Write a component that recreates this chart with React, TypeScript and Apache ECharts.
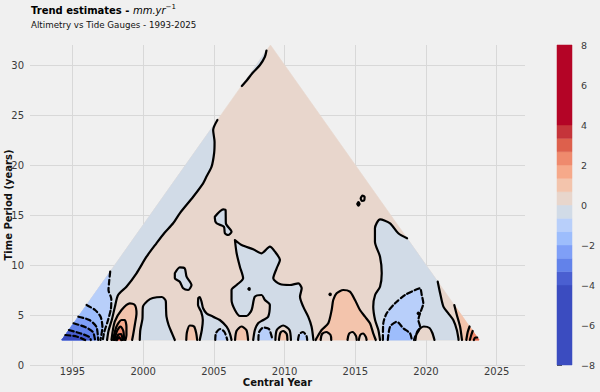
import React, { useEffect, useRef } from 'react';
import * as echarts from 'echarts';

type Pt = [number, number];

// ---- axes / colour scale ----
const xTicks = [1995, 2000, 2005, 2010, 2015, 2020, 2025];
const yTicks = [0, 5, 10, 15, 20, 25, 30];
const levels = [-8, -4, -10 / 3, -8 / 3, -2, -4 / 3, -2 / 3, 0, 2 / 3, 4 / 3, 2, 8 / 3, 10 / 3, 4, 8];
const levelColors = ['#3b4cc0', '#4a5fd1', '#6282ea', '#7f9ff7', '#9dbdfc', '#b8cffa', '#d1dbe7', '#e8d6cc', '#f3c4ac', '#f6a98a', '#ef8a6d', '#dd604c', '#c5343a', '#b40426'];

// ---- domain (central year, period) ----
const triangle: Pt[] = [[1994.25, 2.5], [2009, 32], [2023.75, 2.5]];

// ---- contours ----
const zeroMain: Pt[] = [[2005.25, 24.5], [2004.95, 23.5], [2005.05, 22.3], [2005.02, 21.2], [2004.84, 19.83], [2004.5, 18.9], [2004.24, 18.17], [2003.54, 16.83], [2002.59, 15.17], [2002.12, 14.17], [2001.5, 13.2], [2000.94, 12.17], [2000.24, 10.83], [1999.53, 9.17], [1998.82, 7.83], [1998.23, 7.0], [1998.0, 5.8], [1997.8, 4.6], [1997.55, 3.4], [1997.45, 2.5]];
const topSliver: Pt[] = [[2008.72, 31.45], [2008.61, 30.83], [2008.26, 30.0], [2007.72, 29.17], [2007.35, 28.5], [2006.98, 27.9]];

const neg067: Pt[] = [[1997.67, 9.33], [1997.6, 8.4], [1997.55, 7.5], [1997.75, 6.6], [1997.72, 5.6], [1997.5, 4.4], [1997.25, 3.3], [1997.15, 2.5]];
const neg133: Pt[] = [[1996.0, 6.0], [1996.6, 5.5], [1997.0, 4.8], [1997.12, 3.8], [1996.98, 2.5]];
const neg200: Pt[] = [[1995.42, 4.83], [1996.2, 4.5], [1996.7, 3.8], [1996.82, 2.5]];
const neg267: Pt[] = [[1995.08, 4.17], [1995.9, 3.8], [1996.45, 3.3], [1996.6, 2.5]];
const neg333: Pt[] = [[1994.75, 3.5], [1995.6, 3.15], [1996.2, 2.8], [1996.3, 2.5]];
const neg400: Pt[] = [[1994.5, 3.0], [1995.3, 2.85], [1995.9, 2.5]];

const pos067a: Pt[] = [[1997.76, 2.5], [1997.99, 4.33], [1998.47, 5.5], [1999.06, 6.17], [1999.41, 6.0], [1999.53, 5.17], [1999.41, 4.0], [1999.29, 3.0], [1999.22, 2.5]];
const pos133a: Pt[] = [[1997.87, 2.5], [1998.11, 3.83], [1998.47, 4.5], [1998.7, 4.5], [1998.82, 3.83], [1998.82, 3.0], [1998.75, 2.5]];
const pos200a: Pt[] = [[1997.97, 2.5], [1998.15, 3.4], [1998.4, 3.85], [1998.6, 3.4], [1998.65, 2.5]];
const pos267a: Pt[] = [[1998.07, 2.5], [1998.25, 3.05], [1998.45, 3.1], [1998.55, 2.5]];
const pos333a: Pt[] = [[1998.15, 2.5], [1998.3, 2.8], [1998.45, 2.5]];

const islandA: Pt[] = [[2005.07, 14.83], [2005.66, 15.57], [2005.83, 15.5], [2005.85, 14.17], [2006.25, 13.33], [2006.01, 13.0], [2005.78, 13.17], [2005.71, 13.83], [2005.19, 14.17], [2005.07, 14.67], [2005.07, 14.83]];
const islandI: Pt[] = [[2002.24, 9.17], [2002.59, 9.77], [2002.94, 9.67], [2003.07, 8.83], [2003.42, 8.0], [2003.18, 7.5], [2002.83, 7.67], [2002.59, 8.33], [2002.24, 8.67], [2002.24, 9.17]];

const regionB: Pt[] = [[2007.78, 2.5], [2007.9, 3.5], [2008.13, 4.17], [2008.49, 4.5], [2008.84, 4.83], [2008.96, 6.0], [2008.61, 6.5], [2008.38, 7.0], [2007.9, 6.83], [2007.67, 5.5], [2007.31, 4.9], [2006.84, 4.9], [2006.49, 5.5], [2006.25, 6.5], [2006.25, 7.5], [2006.61, 8.0], [2007.07, 8.67], [2006.84, 9.83], [2006.61, 11.17], [2006.49, 12.5], [2006.96, 12.0], [2007.78, 11.57], [2008.38, 11.17], [2008.96, 11.83], [2009.32, 11.33], [2009.67, 10.5], [2009.44, 9.67], [2009.2, 8.67], [2009.67, 8.1], [2010.38, 8.0], [2010.97, 8.17], [2011.21, 7.67], [2011.09, 6.83], [2011.32, 5.83], [2011.67, 4.83], [2011.91, 3.83], [2012.04, 2.5]];
const patchB1: Pt[] = [[2008.15, 2.5], [2008.2, 3.3], [2008.5, 3.75], [2008.9, 3.6], [2009.15, 2.5]];
const patchB2p: Pt[] = [[2009.35, 2.5], [2009.45, 3.5], [2009.9, 3.95], [2010.35, 3.5], [2010.45, 2.5]];
const patchB2s: Pt[] = [[2009.6, 2.5], [2009.7, 3.2], [2009.9, 3.4], [2010.15, 3.1], [2010.2, 2.5]];
const patchB3: Pt[] = [[2010.95, 2.5], [2011.05, 3.1], [2011.3, 3.3], [2011.55, 2.9], [2011.6, 2.5]];

const regionC: Pt[] = [[2004.0, 2.5], [2004.15, 3.5], [2004.22, 4.5], [2004.1, 5.33], [2003.88, 6.0], [2003.9, 6.7], [2004.0, 6.8], [2004.13, 6.33], [2004.24, 5.67], [2004.48, 5.17], [2004.95, 4.83], [2005.42, 4.5], [2005.9, 3.83], [2006.13, 3.17], [2006.25, 2.5]];
const patchC1: Pt[] = [[2005.1, 2.5], [2005.15, 3.2], [2005.45, 3.6], [2005.75, 3.3], [2005.95, 2.5]];
const regionD: Pt[] = [[1999.76, 2.5], [1999.8, 3.5], [1999.95, 4.6], [1999.98, 5.8], [2000.3, 6.4], [2000.68, 6.7], [2001.32, 6.8], [2001.6, 6.4], [2001.62, 5.6], [2001.65, 4.83], [2001.8, 4.0], [2002.0, 3.3], [2002.24, 2.5]];
const patchE: Pt[] = [[2003.05, 2.5], [2003.1, 3.3], [2003.3, 3.95], [2003.6, 3.85], [2003.75, 3.2], [2003.82, 2.5]];
const patchJ: Pt[] = [[2006.5, 2.5], [2006.6, 3.4], [2006.95, 3.85], [2007.3, 3.5], [2007.42, 2.5]];

const regionF: Pt[] = [[2012.2, 2.5], [2012.27, 2.7], [2012.62, 3.5], [2013.09, 4.17], [2013.33, 5.5], [2013.44, 6.5], [2013.68, 7.17], [2014.15, 7.5], [2014.62, 7.33], [2014.98, 6.5], [2015.33, 5.5], [2015.69, 4.83], [2016.04, 4.17], [2016.27, 3.17], [2016.45, 2.5]];
const patchF1: Pt[] = [[2012.55, 2.5], [2012.65, 3.1], [2012.95, 3.3], [2013.25, 3.0], [2013.3, 2.5]];
const patchF2: Pt[] = [[2014.45, 2.5], [2014.55, 3.1], [2014.8, 3.3], [2015.05, 2.9], [2015.1, 2.5]];
const patchF3: Pt[] = [[2015.25, 2.5], [2015.35, 3.0], [2015.55, 3.15], [2015.75, 2.8], [2015.8, 2.5]];

const gLeft: Pt[] = [[2016.75, 2.5], [2016.63, 3.5], [2016.4, 4.5], [2016.27, 5.83], [2016.4, 7.0], [2016.75, 7.83], [2016.87, 9.17], [2016.75, 10.83], [2016.39, 12.33], [2016.39, 13.67], [2016.75, 14.57], [2017.46, 14.17], [2018.04, 13.17], [2018.66, 12.67]];
const gRight: Pt[] = [[2020.83, 8.33], [2021.0, 7.17], [2021.23, 5.83], [2021.58, 5.17], [2021.93, 4.5], [2022.18, 3.5], [2022.29, 2.67], [2022.3, 2.5]];
const patchK: Pt[] = [[2016.95, 2.5], [2016.98, 4.17], [2017.22, 5.17], [2017.81, 6.17], [2018.52, 7.0], [2019.23, 7.5], [2019.58, 7.67], [2019.7, 7.0], [2019.81, 6.17], [2019.58, 5.17], [2019.46, 4.5], [2019.58, 3.83], [2019.23, 2.83], [2019.15, 2.5]];
const patchK2: Pt[] = [[2017.3, 2.5], [2017.46, 3.83], [2017.93, 4.33], [2018.4, 3.67], [2018.87, 3.17], [2019.0, 2.5]];
const patchH: Pt[] = [[2019.25, 2.5], [2019.4, 3.4], [2019.85, 3.85], [2020.25, 3.7], [2020.45, 3.2], [2020.6, 2.5]];

const edgeR1: Pt[] = [[2022.0, 6.0], [2022.18, 5.0], [2022.41, 3.83], [2022.53, 2.67], [2022.55, 2.5]];
const edgeR2: Pt[] = [[2022.85, 2.5], [2022.95, 3.3], [2023.08, 3.85]];
const edgeR3: Pt[] = [[2023.1, 2.5], [2023.2, 3.0], [2023.3, 3.4]];
const edgeR4: Pt[] = [[2023.38, 2.5], [2023.48, 2.75], [2023.62, 2.75]];

const ringTop: Pt[] = [[2015.38, 16.65], [2015.5, 16.95], [2015.66, 16.8], [2015.62, 16.45], [2015.45, 16.42], [2015.38, 16.65]];
const dotTop: Pt[] = [[2015.14, 16.1], [2015.22, 16.28], [2015.3, 16.1], [2015.22, 15.93], [2015.14, 16.1]];
const dotB: Pt[] = [[2007.44, 7.6], [2007.49, 7.68], [2007.54, 7.6], [2007.49, 7.52], [2007.44, 7.6]];
const dotF: Pt[] = [[2013.17, 7.07], [2013.22, 7.15], [2013.27, 7.07], [2013.22, 6.99], [2013.17, 7.07]];
const dotK: Pt[] = [[2019.41, 5.17], [2019.46, 5.25], [2019.51, 5.17], [2019.46, 5.09], [2019.41, 5.17]];

// ---- fill layers: polygon + a value inside its band ----
const corner = triangle[0];
const cornerR = triangle[2];
const fillLayers: [Pt[], number][] = [
  [triangle, 0.3],
  [[corner, ...zeroMain], -0.3],
  [topSliver, -0.3],
  [[corner, ...neg067], -1],
  [[corner, ...neg133], -1.6],
  [[corner, ...neg200], -2.3],
  [[corner, ...neg267], -3],
  [[corner, ...neg333], -3.6],
  [[corner, ...neg400], -5],
  [islandA, -0.3],
  [islandI, -0.3],
  [regionB, -0.3],
  [regionC, -0.3],
  [regionD, -0.3],
  [[...gLeft, ...gRight], -0.3],
  [patchK, -1],
  [patchK2, -1.6],
  [patchH, 0.3],
  [patchC1, -1],
  [patchB1, -1],
  [patchB2p, 0.3],
  [patchB2s, 1],
  [patchB3, -1],
  [patchE, 1],
  [patchJ, 1],
  [regionF, 1],
  [patchF1, 0.3],
  [patchF2, 0.3],
  [patchF3, 0.3],
  [pos067a, 1],
  [pos133a, 1.6],
  [pos200a, 2.3],
  [pos267a, 3],
  [pos333a, 3.6],
  [[...edgeR1, cornerR], 1],
  [[...edgeR2, cornerR], 1.6],
  [[...edgeR3, cornerR], 2.3],
  [[...edgeR4, cornerR], 3],
];

// ---- contour lines: path + level ----
const contourLines: [Pt[], number][] = [
  [zeroMain, 0], [topSliver, 0],
  [neg067, -0.67], [neg133, -1.33], [neg200, -2], [neg267, -2.67], [neg333, -3.33], [neg400, -4],
  [pos067a, 0.67], [pos133a, 1.33], [pos200a, 2], [pos267a, 2.67], [pos333a, 3.33],
  [islandA, 0], [islandI, 0], [regionB, 0], [regionC, 0], [regionD, 0],
  [gLeft, 0], [gRight, 0], [patchK, -0.67], [patchK2, -1.33], [patchH, 0],
  [patchC1, -0.67], [patchB1, -0.67], [patchB2p, 0], [patchB2s, 0.67], [patchB3, -0.67],
  [patchE, 0.67], [patchJ, 0.67], [regionF, 0.67], [patchF1, 0.67], [patchF2, 0.67], [patchF3, 0.67],
  [edgeR1, 0.67], [edgeR2, 1.33], [edgeR3, 2], [edgeR4, 2.67],
  [ringTop, 0], [dotTop, 0], [dotB, 0], [dotF, 0], [dotK, -0.67],
];

function bandColor(v: number): string {
  for (let i = 0; i < levelColors.length; i++) {
    if (v >= levels[i] && v < levels[i + 1]) return levelColors[i];
  }
  return levelColors[levelColors.length - 1];
}

const FONT = 'DejaVu Sans';
const minus = (v: number) => (v < 0 ? '\u2212' + Math.abs(v) : String(v));
const plain = (v: number) => String(v);

export default function App() {
  const ref = useRef<HTMLDivElement>(null);
  useEffect(() => {
    document.body.style.margin = '0';
    const chart = echarts.init(ref.current!, null, { renderer: 'svg' });
    const lineSeries = contourLines.map(([pts, lvl]) => ({
      type: 'line',
      xAxisIndex: 0,
      yAxisIndex: 0,
      data: pts,
      showSymbol: false,
      symbol: 'none',
      silent: true,
      smooth: 0.25,
      lineStyle: { color: '#000', width: 2.2, type: lvl < 0 ? [5, 3] : 'solid', join: 'round', cap: 'round' },
      z: 5,
    }));
    const option: any = {
      animation: false,
      backgroundColor: '#f0f0f0',
      textStyle: { fontFamily: FONT },
      grid: [
        { left: 30, right: 75, top: 45, bottom: 27, outerBoundsMode: 'none' },
        { left: 557, width: 15, top: 45, bottom: 27, outerBoundsMode: 'none' },
      ],
      graphic: [
        {
          type: 'text', left: 31, top: 3,
          style: {
            text: '{b|Trend estimates - }{i|mm.yr}{s|\u22121}',
            rich: {
              b: { fontFamily: FONT, fontWeight: 'bold', fontSize: 10, fill: '#000', lineHeight: 14 },
              i: { fontFamily: FONT, fontStyle: 'italic', fontSize: 10, fill: '#000', lineHeight: 14 },
              s: { fontFamily: FONT, fontSize: 7, fill: '#000', lineHeight: 8, verticalAlign: 'top' },
            },
          },
        },
        {
          type: 'text', left: 31, top: 20,
          style: { text: 'Altimetry vs Tide Gauges - 1993-2025', fontFamily: FONT, fontSize: 8.7, fill: '#111' },
        },
      ],
      xAxis: [
        {
          gridIndex: 0, type: 'value', min: 1992, max: 2027,
          axisLine: { show: false },
          axisTick: { show: false, customValues: xTicks },
          axisLabel: { customValues: xTicks, fontSize: 10, color: '#3a3a3a', margin: 1, fontFamily: FONT, formatter: plain },
          splitLine: { show: true, lineStyle: { color: '#d8d8d8', width: 1 } },
          name: 'Central Year', nameLocation: 'middle', nameGap: 12, nameMoveOverlap: false,
          nameTextStyle: { fontWeight: 'bold', fontSize: 10, color: '#111', fontFamily: FONT },
        },
        { gridIndex: 1, type: 'value', min: 0, max: 1, show: false },
      ],
      yAxis: [
        {
          gridIndex: 0, type: 'value', min: 0, max: 32,
          axisLine: { show: false },
          axisTick: { show: false, customValues: yTicks },
          axisLabel: { customValues: yTicks, fontSize: 10, color: '#3a3a3a', margin: 6, fontFamily: FONT, formatter: plain },
          splitLine: { show: true, lineStyle: { color: '#d8d8d8', width: 1 } },
          name: 'Time Period (years)', nameLocation: 'middle', nameGap: 17, nameRotate: 90, nameMoveOverlap: false,
          nameTextStyle: { fontWeight: 'bold', fontSize: 10, color: '#111', fontFamily: FONT },
        },
        {
          gridIndex: 1, type: 'value', min: -8, max: 8, interval: 2, position: 'right',
          axisLine: { show: false },
          axisTick: { show: true, length: 5, lineStyle: { color: '#555', width: 1 } },
          axisLabel: { fontSize: 9.5, color: '#3a3a3a', margin: 9, formatter: minus, fontFamily: FONT },
          splitLine: { show: false },
        },
      ],
      series: [
        {
          type: 'custom',
          xAxisIndex: 0,
          yAxisIndex: 0,
          silent: true,
          data: fillLayers.map(([pts]) => pts[0]),
          renderItem: (params: any, api: any) => {
            const [pts, v] = fillLayers[params.dataIndex];
            const c = bandColor(v);
            return {
              type: 'polygon',
              shape: { points: pts.map((p) => api.coord(p)) },
              style: { fill: c, stroke: c, lineWidth: 0.6 },
            };
          },
          z: 2,
        },
        {
          type: 'custom',
          xAxisIndex: 1,
          yAxisIndex: 1,
          silent: true,
          encode: { x: 0, y: [1, 2] },
          data: levelColors.map((_, i) => [0, levels[i], levels[i + 1]]),
          renderItem: (params: any, api: any) => {
            const lo = api.value(1);
            const hi = api.value(2);
            const p1 = api.coord([0, hi]);
            const p2 = api.coord([1, lo]);
            return {
              type: 'rect',
              shape: { x: p1[0], y: p1[1], width: p2[0] - p1[0], height: p2[1] - p1[1] },
              style: { fill: levelColors[params.dataIndex], stroke: levelColors[params.dataIndex], lineWidth: 0.5 },
            };
          },
        },
        ...lineSeries,
      ],
    };
    chart.setOption(option);
    return () => chart.dispose();
  }, []);
  return <div ref={ref} style={{ width: 600, height: 392 }} />;
}
